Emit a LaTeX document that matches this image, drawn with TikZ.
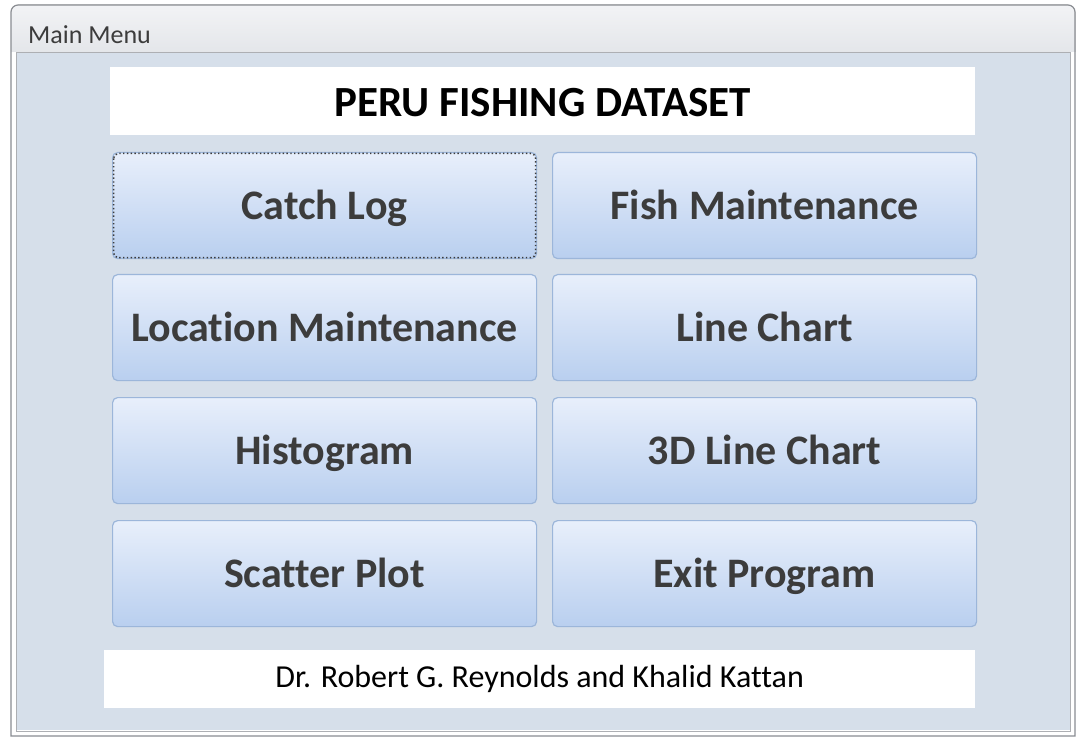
\documentclass[tikz,border=0pt]{standalone}
\usepackage{fontspec}
\setmainfont{Carlito}[Ligatures={NoCommon}]
\usetikzlibrary{shadings}
\definecolor{panel}{HTML}{D6DFEA}
\definecolor{btntop}{HTML}{E8EFFB}
\definecolor{btnbot}{HTML}{B9CFEF}
\definecolor{btnedge}{HTML}{9CB6DA}
\definecolor{ink}{HTML}{3C3C3C}
\definecolor{barTop}{HTML}{F2F3F5}
\definecolor{barBot}{HTML}{E4E6EA}
\definecolor{frameedge}{HTML}{8A8D92}
\tikzset{
  x=1pt, y=-1pt,
  btn/.style={draw=btnedge, line width=1.2pt, rounded corners=5pt,
    top color=btntop, bottom color=btnbot, minimum width=424pt,
    minimum height=106pt, text=ink, font=\fontsize{42}{46}\selectfont\bfseries,
    text height=27pt, text depth=0pt,
    anchor=north west, inner sep=0pt},
  whitebox/.style={fill=white, draw=none, anchor=north west, inner sep=0pt},
  focusring/.style={draw=ink, line width=1.5pt, dash pattern=on 1.4pt off 2.4pt, rounded corners=5pt}
}
\begin{document}
\begin{tikzpicture}
\useasboundingbox (0,0) rectangle (1077,738);
\fill[white] (0,0) rectangle (1077,738);
% window frame and title bar
\fill[top color=barTop, bottom color=barBot] (11,30) -- (11,12) arc[start angle=180,end angle=90,radius=7pt] -- (1068,5) arc[start angle=90,end angle=0,radius=7pt] -- (1075,52) -- (11,52) -- cycle;
\fill[panel] (17,52) rectangle (1070,730);
\draw[frameedge, line width=1.2pt] (11,736) -- (11,12) arc[start angle=180,end angle=90,radius=7pt] -- (1068,5) arc[start angle=90,end angle=0,radius=7pt] -- (1075,736) -- cycle;
\draw[frameedge!70, line width=0.8pt] (16,52) -- (16,731) -- (1070,731) -- (1070,52);
\draw[frameedge!70, line width=0.8pt] (16,52) -- (1070,52);
\node[anchor=west, text=ink, font=\fontsize{26}{28}\selectfont, inner sep=0pt,
  text height=16.7pt, text depth=0pt] (title) at (28,35) {Main Menu};
% header and footer
\node[whitebox, minimum width=865pt, minimum height=68pt] (head) at (110,67) {};
\node[text=black, font=\fontsize{43}{46}\selectfont\bfseries, inner sep=0pt,
  text height=27.7pt, text depth=0pt] (headtext) at ([yshift=-1pt]head.center) {PERU FISHING DATASET};
\node[whitebox, minimum width=871pt, minimum height=58pt] (foot) at (104,650) {};
\node[text=black, font=\fontsize{32}{34}\selectfont, inner sep=0pt,
  text height=20.6pt, text depth=0pt] (foottext) at ([yshift=2pt]foot.center) {Dr. Robert G. Reynolds and Khalid Kattan};
% buttons
\node[btn] (catch) at (112,152) {Catch Log};
\node[btn] (fish) at (552,152) {Fish Maintenance};
\node[btn] (loc) at (112,274) {Location Maintenance};
\node[btn] (line) at (552,274) {Line Chart};
\node[btn] (hist) at (112,397) {Histogram};
\node[btn] (line3d) at (552,397) {3D Line Chart};
\node[btn] (scatter) at (112,520) {Scatter Plot};
\node[btn] (exit) at (552,520) {Exit Program};
\draw[focusring] ([shift={(1.5,1.5)}]catch.north west) rectangle ([shift={(-1.5,-1.5)}]catch.south east);
\end{tikzpicture}
\end{document}
